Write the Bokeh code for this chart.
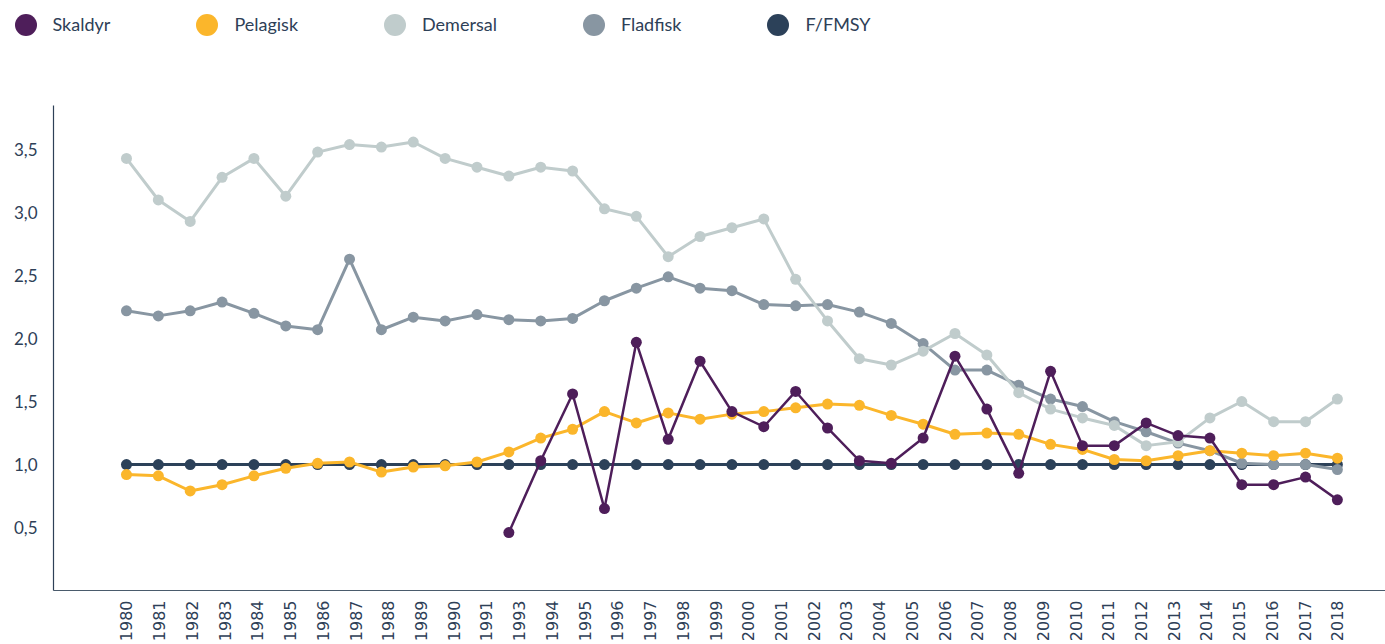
from bokeh.plotting import figure
from bokeh.models import (Range1d, FixedTicker, CustomJSTickFormatter, Legend, LegendItem,
                          ColumnDataSource)
from bokeh.layouts import column
from bokeh.embed import file_html
from bokeh.resources import INLINE
import math

# ---------------- data ----------------
years = list(range(1980, 2019))  # 39 data points

# tick labels as printed on the chart (1992 is not printed)
tick_labels = [str(y) for y in range(1980, 1992)] + [str(y) for y in range(1993, 2019)]

skaldyr_years = list(range(1992, 2019))
skaldyr = [0.46, 1.03, 1.56, 0.65, 1.97, 1.20, 1.82, 1.42, 1.30, 1.58,
           1.29, 1.03, 1.01, 1.21, 1.86, 1.44, 0.93, 1.74, 1.15, 1.15,
           1.33, 1.23, 1.21, 0.84, 0.84, 0.90, 0.72]

pelagisk = [0.92, 0.91, 0.79, 0.84, 0.91, 0.97, 1.01, 1.02, 0.94, 0.98,
            0.99, 1.02, 1.10, 1.21, 1.28, 1.42, 1.33, 1.41, 1.36, 1.40,
            1.42, 1.45, 1.48, 1.47, 1.39, 1.32, 1.24, 1.25, 1.24, 1.16,
            1.12, 1.04, 1.03, 1.07, 1.11, 1.09, 1.07, 1.09, 1.05]

demersal = [3.43, 3.10, 2.93, 3.28, 3.43, 3.13, 3.48, 3.54, 3.52, 3.56,
            3.43, 3.36, 3.29, 3.36, 3.33, 3.03, 2.97, 2.65, 2.81, 2.88,
            2.95, 2.47, 2.14, 1.84, 1.79, 1.90, 2.04, 1.87, 1.57, 1.44,
            1.37, 1.31, 1.15, 1.18, 1.37, 1.50, 1.34, 1.34, 1.52]

fladfisk = [2.22, 2.18, 2.22, 2.29, 2.20, 2.10, 2.07, 2.63, 2.07, 2.17,
            2.14, 2.19, 2.15, 2.14, 2.16, 2.30, 2.40, 2.49, 2.40, 2.38,
            2.27, 2.26, 2.27, 2.21, 2.12, 1.96, 1.75, 1.75, 1.63, 1.52,
            1.46, 1.34, 1.26, 1.17, 1.11, 1.01, 1.00, 1.00, 0.96]

f_fmsy = [1.0] * len(years)

y_ticks = [0.5, 1.0, 1.5, 2.0, 2.5, 3.0, 3.5]

series_names = ["Skaldyr", "Pelagisk", "Demersal", "Fladfisk", "F/FMSY"]
colors = {"Skaldyr": "#4E1E5A", "Pelagisk": "#FBB62B", "Demersal": "#C0CCCC",
          "Fladfisk": "#8896A2", "F/FMSY": "#2C4159"}

TEXT = "#2E4057"

data = {
    "Skaldyr": (skaldyr_years, skaldyr, 2.5),
    "Pelagisk": (years, pelagisk, 3),
    "Demersal": (years, demersal, 3),
    "Fladfisk": (years, fladfisk, 3),
    "F/FMSY": (years, f_fmsy, 3),
}
sources = {n: ColumnDataSource(dict(x=data[n][0], y=data[n][1])) for n in series_names}

# ---------------- main figure ----------------
p = figure(width=1385, height=594, output_backend="svg", toolbar_location=None,
           x_range=Range1d(1980 - 2.29, 2018 + 1.51), y_range=Range1d(0.0, 3.85),
           min_border_left=53, min_border_right=0, min_border_top=55, min_border_bottom=54)
p.outline_line_color = None
p.xgrid.visible = False
p.ygrid.visible = False
p.background_fill_color = "white"
p.border_fill_color = "white"

for name in ["F/FMSY", "Fladfisk", "Demersal", "Pelagisk", "Skaldyr"]:
    lw = data[name][2]
    p.line("x", "y", source=sources[name], line_color=colors[name], line_width=lw)
    p.scatter("x", "y", source=sources[name], size=11, fill_color=colors[name], line_color=None)

# ---------------- axes ----------------
xa = p.xaxis[0]
xa.ticker = FixedTicker(ticks=[1980 + k * 38 / 37 for k in range(len(tick_labels))])
xa.formatter = CustomJSTickFormatter(args=dict(labels=tick_labels),
                                     code="return labels[Math.round((tick - 1980) * 37 / 38)];")
xa.major_label_orientation = math.pi / 2
xa.major_label_text_font = "DejaVu Sans"
xa.major_label_text_font_size = "16px"
xa.major_label_text_color = TEXT
xa.major_label_standoff = 10
xa.major_tick_line_color = None
xa.major_tick_out = 0
xa.major_tick_in = 0
xa.minor_tick_line_color = None
xa.minor_tick_out = 0
xa.axis_line_color = "#4A5B6C"
xa.axis_line_width = 1.2

ya = p.yaxis[0]
ya.ticker = FixedTicker(ticks=y_ticks)
ya.formatter = CustomJSTickFormatter(code="return tick.toFixed(1).replace('.', ',');")
ya.major_label_text_font = "Lato"
ya.major_label_text_font_size = "17px"
ya.major_label_text_color = TEXT
ya.major_label_standoff = 16
ya.major_tick_line_color = None
ya.major_tick_out = 0
ya.major_tick_in = 0
ya.minor_tick_line_color = None
ya.minor_tick_out = 0
ya.axis_line_color = TEXT
ya.axis_line_width = 1.2

# ---------------- legend strip ----------------
# The strip's ranges lie away from the data, so its swatch renderers draw nothing
# inside the strip; they only provide the legend glyphs.
lg = figure(width=1385, height=50, output_backend="svg", toolbar_location=None,
            x_axis_type=None, y_axis_type=None,
            x_range=Range1d(0, 1), y_range=Range1d(0, 1),
            min_border=0, min_border_left=0, min_border_right=0,
            min_border_top=0, min_border_bottom=0)
lg.outline_line_color = None
lg.background_fill_color = "white"
lg.border_fill_color = "white"

# keep the strip's frame at the page edge (no frame alignment with the chart)
for fig in (lg, p):
    try:
        fig.frame_align = False
    except Exception:
        pass

items = []
for name in series_names:
    r = lg.scatter("x", "y", source=sources[name], size=11,
                   fill_color=colors[name], line_color=None)
    items.append(LegendItem(label=name, renderers=[r]))

legend = Legend(items=items, orientation="horizontal", location=(-2.5, -1.5),
                glyph_width=55, glyph_height=55, label_standoff=-11, spacing=69,
                padding=0, margin=0, border_line_color=None, background_fill_alpha=0,
                label_text_font="Lato", label_text_font_size="18px",
                label_text_color=TEXT)
lg.add_layout(legend)

layout = column(lg, p, spacing=0)
open("out.html", "w").write(file_html(layout, INLINE))
